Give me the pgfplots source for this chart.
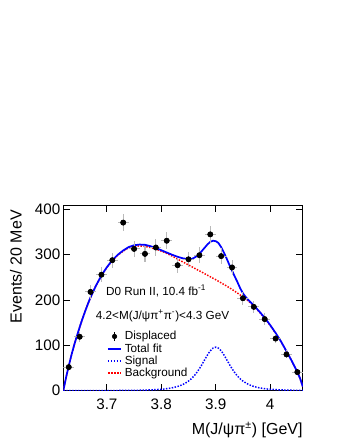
\documentclass[border=0pt]{standalone}
\usepackage{fontspec}
\setmainfont{Liberation Sans}
\usepackage{pgfplots}
\usepackage{pgfplotstable}
\pgfplotsset{compat=1.18}
\pgfplotsset{
  shortline/.style={legend image code/.code={\draw[##1] (0pt,0pt) -- (10pt,0pt);}},
  datalegend/.style={legend image code/.code={\draw[black, line width=0.7pt] (5pt,-3.5pt) -- (5pt,3.5pt);
    \fill[black] (5pt,0pt) circle (1.7pt);}},
}

% data points: bin centre, counts, half bin, sqrt(N)
\pgfplotstableread{
x     y    ex    ey
3.63  52   0.01  7.2
3.65  119  0.01  10.9
3.67  218  0.01  14.8
3.69  256  0.01  16.0
3.71  288  0.01  17.0
3.73  371  0.01  19.3
3.75  313  0.01  17.7
3.77  302  0.01  17.4
3.79  316  0.01  17.8
3.81  331  0.01  18.2
3.83  277  0.01  16.6
3.85  290  0.01  17.0
3.87  299  0.01  17.3
3.89  345  0.01  18.6
3.91  297  0.01  17.2
3.93  272  0.01  16.5
3.95  204  0.01  14.3
3.97  185  0.01  13.6
3.99  158  0.01  12.6
4.01  115  0.01  10.7
4.03  80   0.01  8.9
4.05  41   0.01  6.4
}\displaced

\pgfplotstableread{
x      y
3.620  0
3.625  29
3.630  55
3.635  79
3.640  101
3.645  121
3.650  140
3.655  158
3.660  175
3.665  191
3.670  206
3.675  219
3.680  232
3.685  243
3.690  254
3.695  263
3.700  272
3.710  287
3.720  299
3.730  308
3.740  315.5
3.750  318.5
3.760  319.5
3.770  318.5
3.780  316
3.790  312.5
3.800  308
3.810  303
3.820  297
3.830  290.5
3.840  284
3.850  277.5
3.860  271
3.870  264.5
3.880  258
3.890  251.5
3.900  245
3.910  238
3.920  231
3.930  223.5
3.940  215.5
3.950  207
3.960  198
3.970  187
3.980  174
3.990  160
4.000  144
4.010  127
4.020  108
4.030  87
4.040  65
4.050  41
4.055  27
4.060  9
}\background

\pgfplotstableread{
x      y
3.620  0.07
3.660  0.13
3.700  0.26
3.740  0.6
3.760  1.0
3.780  1.7
3.800  3.1
3.810  4.4
3.820  6.3
3.830  9.3
3.840  13.9
3.850  21.1
3.855  26.1
3.860  32.3
3.865  39.7
3.870  48.5
3.875  58.3
3.880  68.8
3.885  79.1
3.890  87.9
3.895  93.9
3.900  96
3.905  93.9
3.910  87.9
3.915  79.1
3.920  68.8
3.925  58.3
3.930  48.5
3.935  39.7
3.940  32.3
3.945  26.1
3.950  21.1
3.960  13.9
3.970  9.3
3.980  6.3
3.990  4.4
4.000  3.1
4.020  1.7
4.040  1.0
4.060  0.6
}\signal

\pgfplotstableread{
x      y
3.620  0
3.625  29
3.630  55
3.635  79
3.640  101
3.645  121
3.650  140
3.655  158
3.660  175
3.665  191
3.670  206
3.675  219
3.680  232
3.685  243
3.690  254
3.695  263.5
3.700  272.5
3.710  288
3.720  300
3.730  309.5
3.740  317
3.750  321
3.760  322.5
3.770  322
3.780  319
3.790  315
3.800  310
3.810  305
3.820  300
3.830  295.5
3.840  292
3.850  290.5
3.855  290.5
3.860  293
3.865  297
3.870  302
3.875  309
3.880  316
3.885  323
3.890  328.5
3.895  331
3.900  330
3.905  326
3.910  317
3.915  305
3.920  292
3.925  278
3.930  265
3.935  252
3.940  239.5
3.945  226
3.950  215
3.955  207
3.960  200
3.970  188
3.980  175
3.990  161
4.000  145
4.010  127.5
4.020  108.5
4.030  87
4.040  65
4.050  41
4.055  27
4.060  9
}\totalfit

\begin{document}
\begin{tikzpicture}
\useasboundingbox (0,0) rectangle (255pt,330pt);
\begin{axis}[
  at={(47.5pt,37pt)}, anchor=south west,
  scale only axis, width=179.6pt, height=139.3pt,
  xmin=3.62, xmax=4.06, ymin=0, ymax=410,
  xtick={3.7,3.8,3.9,4}, ytick={0,100,200,300,400},
  tick align=inside,
  major tick length=5pt,
  axis line style={line width=0.6pt},
  tick style={line width=0.6pt, black},
  ticklabel style={font=\fontsize{11.4}{12}\selectfont},
  /pgf/number format/assume math mode=true,
  /pgf/number format/fixed,
  xticklabel style={yshift=-3pt},
  yticklabel style={xshift=1.3pt},
  xlabel={M(J/ψπ\textsuperscript{±}) [GeV]},
  ylabel={Events/ 20 MeV},
  label style={font=\fontsize{12}{14}\selectfont},
  xlabel style={at={(axis description cs:1,-0.235)}, anchor=base east, inner sep=0pt},
  ylabel style={at={(axis description cs:-0.174,0.973)}, anchor=base east, inner sep=0pt},
  legend style={at={(axis description cs:0.181,0.322)}, anchor=north west,
    draw=none, fill=none, font=\fontsize{8.8}{9}\selectfont,
    row sep=1.2pt, inner sep=0pt,
    nodes={inner sep=0pt, text height=6.5pt, text depth=1.5pt}},
  legend cell align=left,
]
\addlegendimage{datalegend}
\addlegendentry{\hspace{2pt}Displaced}
\addlegendimage{draw=blue, line width=1.3pt, shortline}
\addlegendentry{\hspace{2pt}Total fit}
\addlegendimage{draw=blue, line width=1.1pt, dash pattern=on 1.1pt off 1.1pt, shortline}
\addlegendentry{\hspace{2pt}Signal}
\addlegendimage{draw=red, line width=1.4pt, dash pattern=on 1.3pt off 1pt, shortline}
\addlegendentry{\hspace{2pt}Background}

\addplot[draw=red, line width=1.1pt, dash pattern=on 1.1pt off 1.1pt, forget plot]
  table[x=x, y=y] {\background};
\addplot[draw=blue, line width=1.1pt, dash pattern=on 1.1pt off 1.1pt, smooth, forget plot]
  table[x=x, y=y] {\signal};
\addplot[draw=blue, line width=1.3pt, forget plot]
  table[x=x, y=y] {\totalfit};

\addplot[only marks, mark=none, forget plot,
  error bars/.cd, x dir=both, x explicit, y dir=both, y explicit,
  error mark=none, error bar style={draw=gray!55, line width=0.8pt}]
  table[x=x, y=y, x error=ex, y error=ey] {\displaced};
\addplot[only marks, mark=*, mark size=1.7pt, black, forget plot]
  table[x=x, y=y] {\displaced};

\node[anchor=base west, inner sep=0pt, font=\fontsize{8.8}{10}\selectfont]
  at (axis description cs:0.178,0.51) {D0 Run II, 10.4 fb\textsuperscript{-1}};
\node[anchor=base west, inner sep=0pt, font=\fontsize{8.8}{10}\selectfont]
  at (axis description cs:0.135,0.384) {4.2<M(J/ψπ\textsuperscript{+}π\textsuperscript{-})<4.3 GeV};
\end{axis}
\end{tikzpicture}
\end{document}
